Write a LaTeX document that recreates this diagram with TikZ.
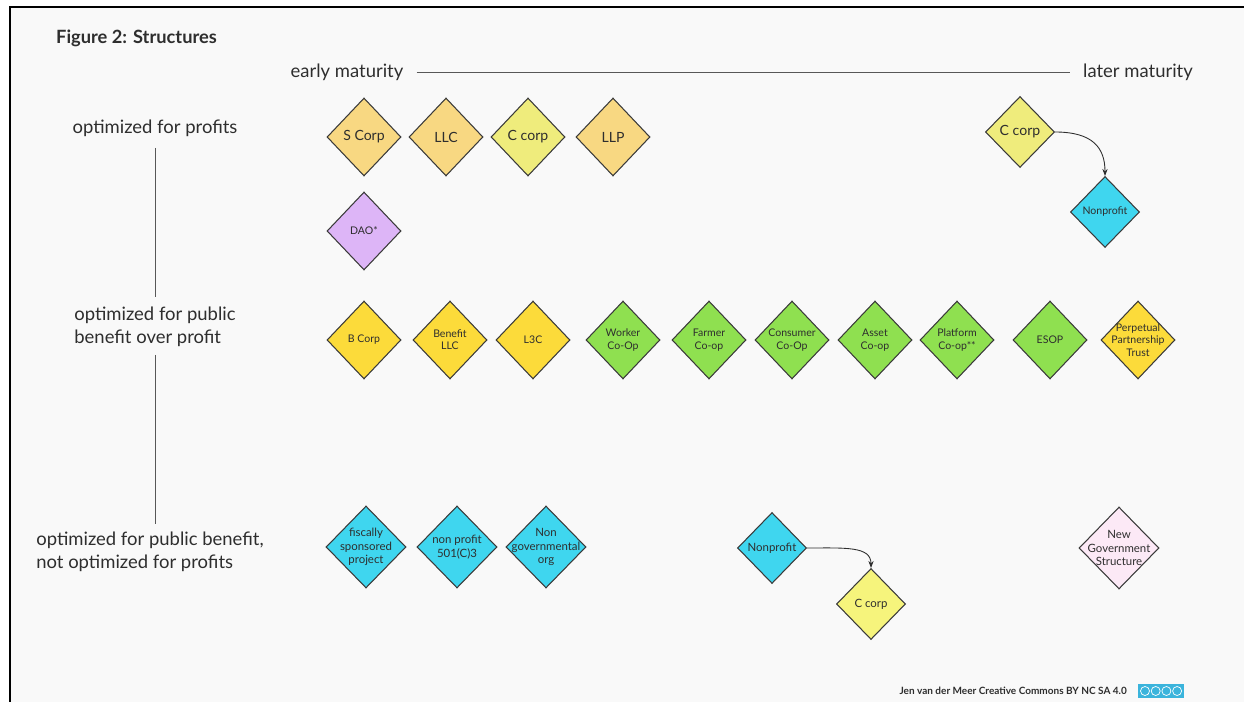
\documentclass[tikz,border=0pt]{standalone}
\usepackage{fontspec}
\setmainfont{Lato}
\usetikzlibrary{shapes.geometric,arrows.meta}

\definecolor{bg}{HTML}{F9F9F9}
\definecolor{ink}{HTML}{2E2E2E}
\definecolor{edge}{HTML}{3A3A3A}
\definecolor{peach}{HTML}{F8D882}
\definecolor{lime}{HTML}{EFEC7C}
\definecolor{lemon}{HTML}{F6F47C}
\definecolor{lilac}{HTML}{DDB5F7}
\definecolor{gold}{HTML}{FCDB3A}
\definecolor{grass}{HTML}{8FE050}
\definecolor{aqua}{HTML}{3FD6EF}
\definecolor{blush}{HTML}{FCE9F6}
\definecolor{ccblue}{HTML}{3BB4DC}

\tikzset{
    struct/.style={diamond, draw=edge, line width=0.6pt, inner sep=0pt,
                   minimum width=1.48cm, minimum height=1.56cm},
    smaller/.style={minimum width=1.38cm, minimum height=1.42cm},
    wider/.style={minimum width=1.6cm, minimum height=1.64cm},
    every label/.style={align=center, text=ink, font=\fontsize{6}{7}\selectfont},
    big/.style={label={[font=\fontsize{8}{9}\selectfont]center:#1}},
    txt/.style={label={center:#1}},
    axis/.style={draw=ink!80, line width=0.5pt},
    move/.style={-{Stealth[length=4pt,width=3pt]}, draw=ink, line width=0.5pt},
}

\begin{document}
\begin{tikzpicture}[x=0.02cm, y=-0.02cm]
    \useasboundingbox (0,0) rectangle (1244,702);
    \fill[white] (0,0) rectangle (1244,702);
    \fill[bg] (10,7) rectangle (1244,702);
    \draw[line width=1.7pt] (10,702) -- (10,7) -- (1244,7);

    \node[anchor=west, text=ink, font=\bfseries\fontsize{10.4}{12}\selectfont] (title) at (50,38) {Figure 2: Structures};

    \begin{scope}[every node/.style={text=ink, font=\fontsize{10.5}{13}\selectfont}]
        \node (early) at (347,72) {early maturity};
        \node (later) at (1138,72) {later maturity};
        \node (profits) at (155,128) {optimized for profits};
        \node[align=left] (public) at (155,327) {optimized for public\\benefit over profit};
        \node[align=left] (notprofit) at (150,552) {optimized for public benefit,\\not optimized for profits};
    \end{scope}

    \path[axis] (early) edge[shorten <=4pt, shorten >=4pt] (later);
    \path[axis] (profits.south) edge[shorten <=3pt, shorten >=2pt] (profits.south |- public.north);
    \path[axis] (public.south) edge[shorten <=1pt, shorten >=1pt] (public.south |- notprofit.north);

    \node[struct, fill=peach, big={S Corp}] (scorp) at (364,137) {};
    \node[struct, fill=peach, big={LLC}] (llc) at (446,137) {};
    \node[struct, fill=lime, big={C corp}] (ccorp) at (528,137) {};
    \node[struct, fill=peach, big={LLP}] (llp) at (613,137) {};
    \node[struct, fill=lilac, txt={DAO*}] (dao) at (364,231) {};

    \node[struct, smaller, fill=lime, big={C corp}] (ccorpb) at (1020,132) {};
    \node[struct, smaller, fill=aqua, txt={Nonprofit}] (nonprofit) at (1105,212) {};

    \node[struct, fill=gold, txt={B Corp}] (bcorp) at (364,340) {};
    \node[struct, fill=gold, txt={Benefit\\LLC}] (benefit) at (450,340) {};
    \node[struct, fill=gold, txt={L3C}] (lthreec) at (533,340) {};
    \node[struct, fill=grass, txt={Worker\\Co-Op}] (worker) at (623,340) {};
    \node[struct, fill=grass, txt={Farmer\\Co-op}] (farmer) at (709,340) {};
    \node[struct, fill=grass, txt={Consumer\\Co-Op}] (consumer) at (792,340) {};
    \node[struct, fill=grass, txt={Asset\\Co-op}] (asset) at (875,340) {};
    \node[struct, fill=grass, txt={Platform\\Co-op**}] (platform) at (957,340) {};
    \node[struct, fill=grass, txt={ESOP}] (esop) at (1050,340) {};
    \node[struct, fill=gold, txt={Perpetual\\Partnership\\Trust}] (trust) at (1138,340) {};

    \begin{scope}[every label/.style={align=center, text=ink, font=\fontsize{6.5}{7.6}\selectfont}]
        \node[struct, wider, fill=aqua, txt={fiscally\\sponsored\\project}] (fiscal) at (366,547) {};
        \node[struct, wider, fill=aqua, txt={non profit\\501(C)3}] (npo) at (457,547) {};
        \node[struct, wider, fill=aqua, txt={Non\\governmental\\org}] (ngo) at (546,547) {};
        \node[struct, smaller, fill=aqua, txt={Nonprofit}] (nonprofitb) at (772,548) {};
        \node[struct, smaller, fill=lemon, txt={C corp}] (ccorpc) at (871,604) {};
        \node[struct, wider, fill=blush, txt={New\\Government\\Structure}] (newgov) at (1119,548) {};
    \end{scope}

    \draw[move] (ccorpb.east) .. controls +(38,0) and +(0,-28) .. (nonprofit.north);
    \draw[move] (nonprofitb.east) .. controls +(38,0) and +(0,-22) .. (ccorpc.north);

    \node[anchor=east, text=ink, font=\bfseries\fontsize{5.7}{6}\selectfont] (credit) at (1133,691) {Jen van der Meer Creative Commons BY NC SA 4.0};
    \node[fill=ccblue, inner sep=0pt, minimum width=0.92cm, minimum height=0.28cm] (badge) at (1161,691) {};
    \foreach \i in {0,...,3}
        \draw[white, line width=0.4pt] (1145+\i*10.7,691) circle (4.5);
\end{tikzpicture}
\end{document}
